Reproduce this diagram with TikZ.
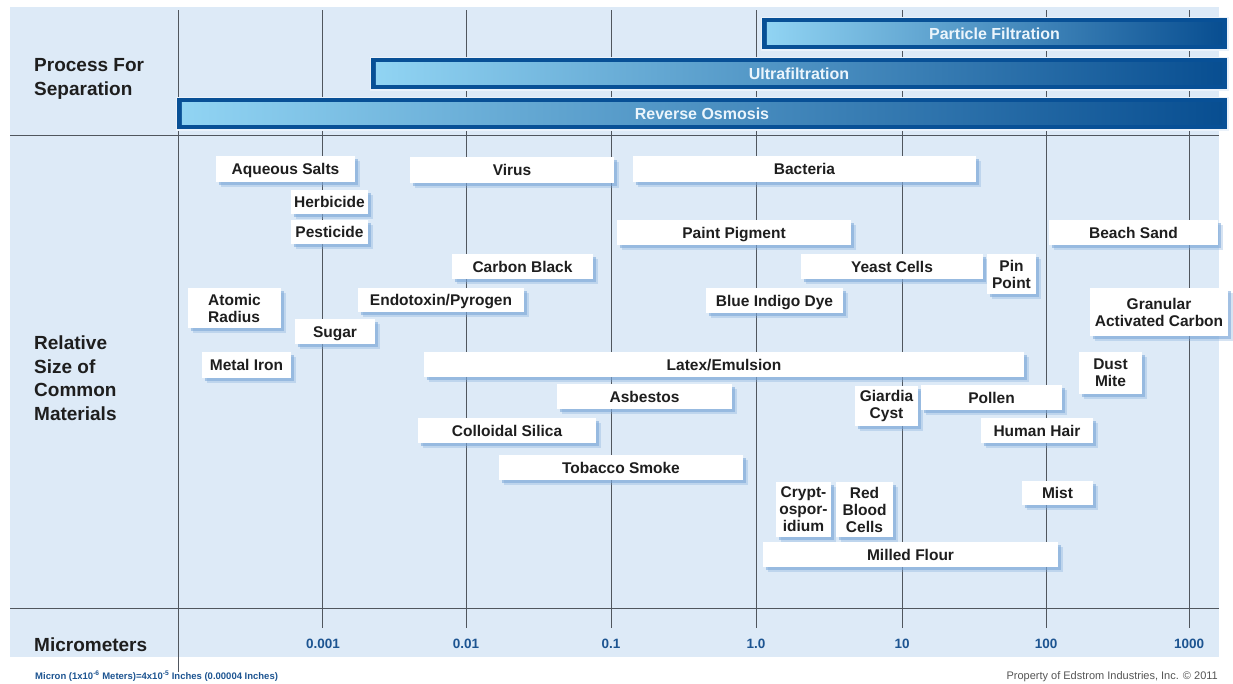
\documentclass[tikz,border=0pt]{standalone}
\usepackage{fontspec}
\setmainfont{Liberation Sans}
\usetikzlibrary{shadows}
\definecolor{panel}{RGB}{221,234,247}
\definecolor{gridc}{RGB}{80,86,94}
\definecolor{txt}{RGB}{30,30,30}
\definecolor{axisblue}{RGB}{28,84,145}
\definecolor{barlight}{RGB}{145,212,243}
\definecolor{barmid}{RGB}{72,146,206}
\definecolor{bardark}{RGB}{8,78,145}
\definecolor{barborder}{RGB}{8,80,150}
\definecolor{shadowc}{RGB}{120,165,215}
\definecolor{propgray}{RGB}{85,85,85}
\definecolor{bartxt}{RGB}{235,245,252}
\tikzset{
  mbox/.style={fill=white, inner sep=1pt, font=\fontsize{15.5}{17}\selectfont\bfseries, text=txt, align=center,
    drop shadow={shadow xshift=4.5pt, shadow yshift=-4.5pt, fill=shadowc, opacity=0.3},
    drop shadow={shadow xshift=2.5pt, shadow yshift=-2.5pt, fill=shadowc, opacity=0.55}},
  oneline/.style={text height=12pt, text depth=1pt},
  gridline/.style={draw=gridc, line width=0.9pt},
  barframe/.style={fill=barborder, inner sep=0pt,
    preaction={draw=white!40!panel, line width=3pt}},
  bartext/.style={text=bartxt, font=\fontsize{16}{18}\selectfont\bfseries},
  sidelabel/.style={anchor=west, align=left, text=txt, font=\fontsize{19}{23.5}\selectfont\bfseries, inner sep=0pt},
  ticklabel/.style={text=axisblue, font=\fontsize{13.5}{15}\selectfont\bfseries},
}
\newcommand\matbox[7][]{\node[mbox,#1,minimum width={(#5-#3)*1pt},minimum height={(#6-#4)*1pt}] (#2) at ({(#3+#5)/2},{(#4+#6)/2}) {#7};}
\newcommand\procbar[5]{%
  \node[barframe,minimum width={(#4-#2)*1pt},minimum height={(#5-#3)*1pt}] (#1) at ({(#2+#4)/2},{(#3+#5)/2}) {};
  \shade[left color=barlight, middle color=barmid, right color=bardark] ([shift={(5,5)}]#1.north west) rectangle ([shift={(-5,-5)}]#1.south east);}
\begin{document}
\begin{tikzpicture}[x=1pt,y=-1pt]
\useasboundingbox (0,0) rectangle (1233,683);
\fill[white] (0,0) rectangle (1233,683);
\fill[panel] (10,7) rectangle (1219,657);
% grid
\draw[gridline] (10,135) -- (1219,135);
\draw[gridline] (10,608) -- (1219,608);
\draw[gridline] (178,10) -- (178,672);
\foreach \gx in {322,466,611,756,902,1046,1189}
  \draw[gridline] (\gx,10) -- (\gx,628);
% process bars
\procbar{pfbar}{762}{18}{1227}{49}
\procbar{ufbar}{371}{58}{1227}{89}
\procbar{robar}{177}{98}{1227}{129}
\node[bartext] (pf) at (pfbar.center) {Particle Filtration};
\node[bartext] (uf) at (ufbar.center) {Ultrafiltration};
\node[bartext] (ro) at (robar.center) {Reverse Osmosis};
% side labels
\node[sidelabel] (proc) at (34,79) {Process For\\Separation};
\node[sidelabel] (rel) at (34,378) {Relative\\Size of\\Common\\Materials};
\node[sidelabel] (micro) at (34,645) {Micrometers};
% axis labels
\node[ticklabel] (t1) at (323,644) {0.001};
\node[ticklabel] (t2) at (466,644) {0.01};
\node[ticklabel] (t3) at (611,644) {0.1};
\node[ticklabel] (t4) at (756,644) {1.0};
\node[ticklabel] (t5) at (902,644) {10};
\node[ticklabel] (t6) at (1046,644) {100};
\node[ticklabel] (t7) at (1189,644) {1000};
% materials
\matbox[oneline]{aq}{216}{156}{355}{182}{Aqueous Salts}
\matbox[oneline]{virus}{410}{157}{614}{183}{Virus}
\matbox[oneline]{bact}{633}{156}{976}{182}{Bacteria}
\matbox[oneline]{herb}{291}{190}{368}{214}{Herbicide}
\matbox[oneline]{pest}{291}{220}{368}{244}{Pesticide}
\matbox[oneline]{paint}{617}{220}{851}{245}{Paint Pigment}
\matbox[oneline]{sand}{1049}{220}{1218}{245}{Beach Sand}
\matbox[oneline]{cblack}{452}{254}{593}{279}{Carbon Black}
\matbox[oneline]{yeast}{801}{254}{983}{279}{Yeast Cells}
\matbox{pin}{987}{254}{1036}{294}{Pin\\Point}
\matbox[align=left]{atomic}{188}{288}{281}{328}{Atomic\\Radius}
\matbox[oneline]{endo}{358}{288}{524}{312}{Endotoxin/Pyrogen}
\matbox[oneline]{indigo}{706}{288}{843}{313}{Blue Indigo Dye}
\matbox{gac}{1090}{288}{1228}{336}{Granular\\Activated Carbon}
\matbox[oneline]{sugar}{295}{319}{375}{344}{Sugar}
\matbox[oneline]{iron}{202}{352}{291}{378}{Metal Iron}
\matbox[oneline]{latex}{424}{352}{1024}{377}{Latex/Emulsion}
\matbox{dust}{1079}{352}{1142}{394}{Dust\\Mite}
\matbox[oneline]{asb}{557}{384}{732}{409}{Asbestos}
\matbox{giardia}{855}{386}{918}{426}{Giardia\\Cyst}
\matbox[oneline]{pollen}{921}{385}{1062}{410}{Pollen}
\matbox[oneline]{silica}{418}{418}{596}{443}{Colloidal Silica}
\matbox[oneline]{hair}{981}{418}{1093}{443}{Human Hair}
\matbox[oneline]{tobacco}{499}{455}{743}{480}{Tobacco Smoke}
\matbox{crypto}{776}{482}{831}{537}{Crypt-\\ospor-\\idium}
\matbox{rbc}{836}{482}{893}{537}{Red\\Blood\\Cells}
\matbox[oneline]{mist}{1022}{481}{1093}{505}{Mist}
\matbox[oneline]{flour}{763}{542}{1058}{567}{Milled Flour}
% notes
\node[anchor=base west, inner sep=0pt, text=axisblue, font=\fontsize{9.5}{11}\selectfont\bfseries] (micron) at (35,679)
  {Micron (1x10\textsuperscript{-6} Meters)=4x10\textsuperscript{-5} Inches (0.00004 Inches)};
\node[anchor=base east, inner sep=0pt, text=propgray, font=\fontsize{11}{13}\selectfont] (prop) at (1218,679)
  {Property of Edstrom Industries, Inc. \textcopyright\ 2011};
\end{tikzpicture}
\end{document}
